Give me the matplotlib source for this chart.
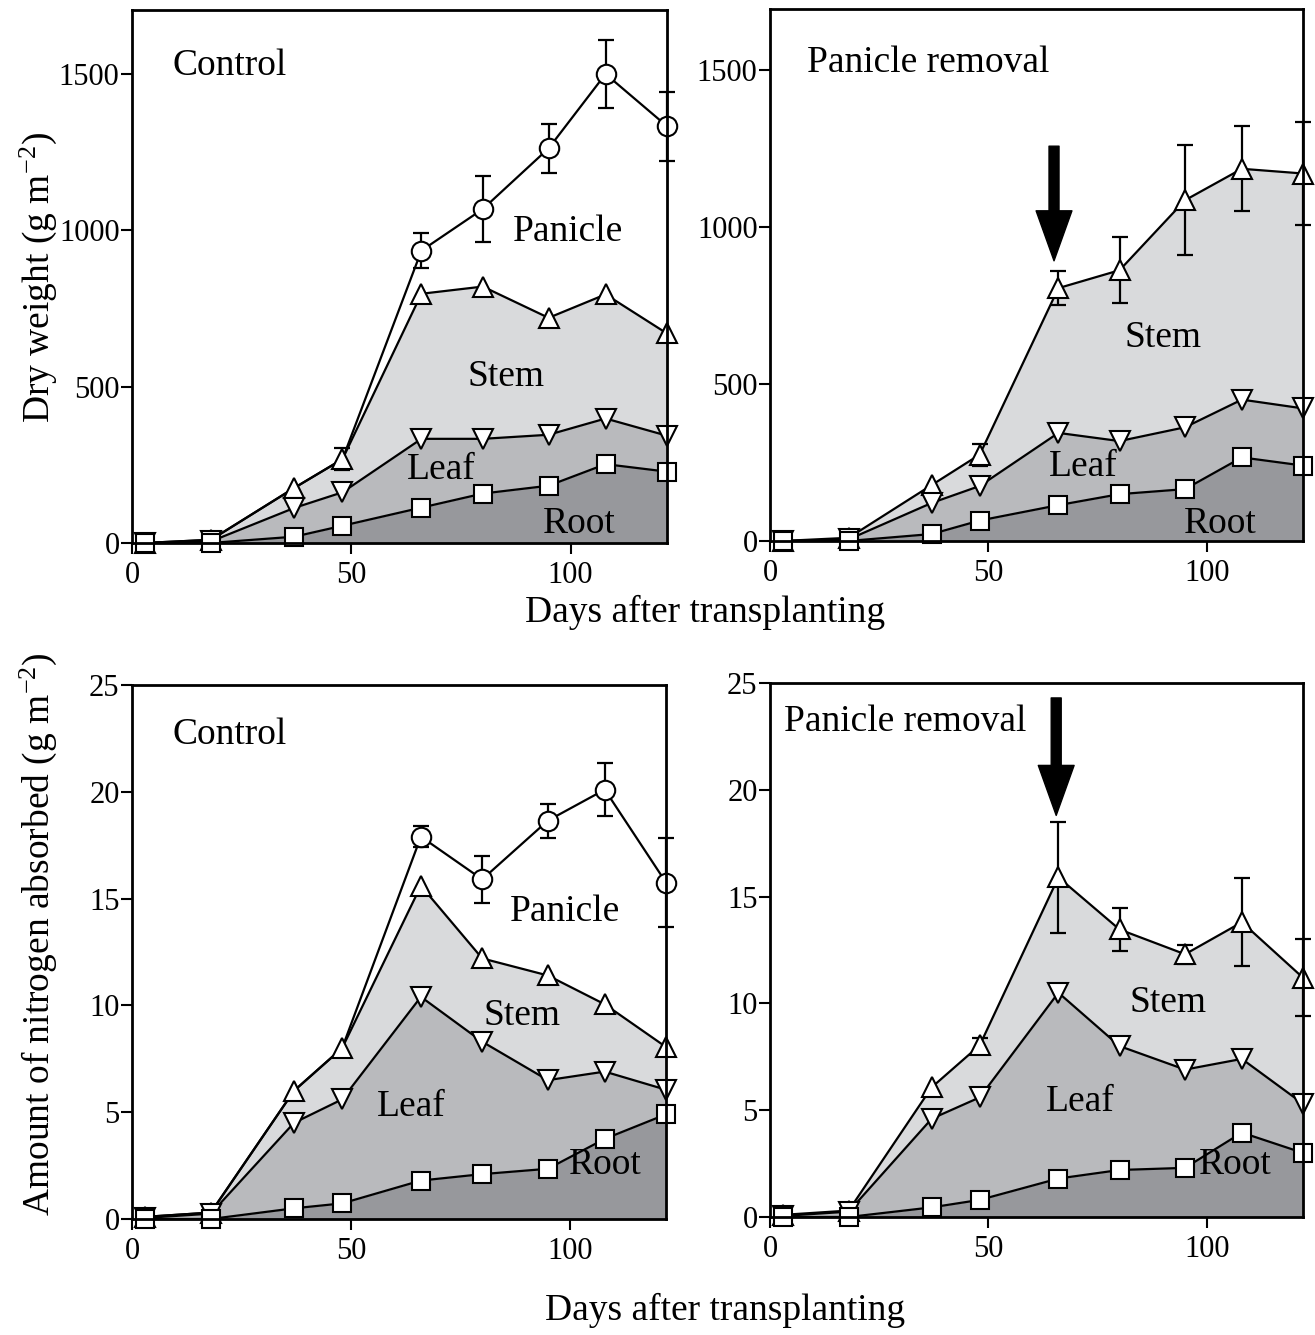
import numpy as np
import matplotlib
matplotlib.use('Agg')
import matplotlib.pyplot as plt

plt.rcParams['font.family'] = ['Liberation Serif', 'DejaVu Serif']
plt.rcParams['mathtext.fontset'] = 'custom'
plt.rcParams['mathtext.rm'] = 'Liberation Serif'
plt.rcParams['mathtext.it'] = 'Liberation Serif:italic'

days = [3, 18, 37, 48, 66, 80, 95, 108, 122]

# dry weight, control (stacked totals: root, +leaf, +stem, +panicle)
dw_ctrl_root = [0, 0, 20, 55, 113, 158, 183, 252, 228]
dw_ctrl_leaf = [0, 5, 112, 162, 333, 333, 346, 398, 343]
dw_ctrl_stem = [0, 10, 176, 268, 797, 820, 720, 795, 670]
dw_ctrl_panicle = [0, 10, 176, 268, 935, 1068, 1262, 1500, 1333]
dw_ctrl_err = [15, 15, 0, 35, 55, 105, 78, 110, 110]

# dry weight, panicle removal
dw_rem_root = [0, 0, 22, 65, 114, 149, 165, 266, 240]
dw_rem_leaf = [0, 5, 121, 175, 344, 318, 362, 450, 422]
dw_rem_stem = [0, 10, 178, 275, 805, 862, 1085, 1185, 1170]
dw_rem_err = [20, 15, 0, 35, 55, 105, 175, 135, 165]

# nitrogen, control
n_ctrl_root = [0, 0, 0.5, 0.73, 1.8, 2.1, 2.35, 3.75, 4.9]
n_ctrl_leaf = [0.05, 0.25, 4.5, 5.6, 10.4, 8.3, 6.5, 6.9, 6.05]
n_ctrl_stem = [0.1, 0.3, 6.0, 8.0, 15.6, 12.2, 11.4, 10.05, 8.05]
n_ctrl_panicle = [0.1, 0.3, 6.0, 8.0, 17.9, 15.9, 18.65, 20.1, 15.75]
n_ctrl_err = [0.2, 0.2, 0, 0, 0.5, 1.1, 0.8, 1.25, 2.1]

# nitrogen, panicle removal
n_rem_root = [0, 0, 0.45, 0.8, 1.8, 2.2, 2.3, 3.95, 3.0]
n_rem_leaf = [0.05, 0.25, 4.6, 5.6, 10.5, 8.0, 6.9, 7.4, 5.3]
n_rem_stem = [0.1, 0.3, 6.07, 8.04, 15.9, 13.46, 12.3, 13.8, 11.2]
n_rem_err = [0.2, 0.2, 0, 0.35, 2.6, 1.0, 0.45, 2.05, 1.8]

root_c = '#97989c'
leaf_c = '#b9babd'
stem_c = '#d9dadc'

fig = plt.figure(figsize=(13.15, 13.35), dpi=100)


def draw_panel(rect, root, leaf, stem, panicle, err, ylim, yticks):
    ax = fig.add_axes(rect)
    x = np.array(days)
    ax.fill_between(x, 0, root, color=root_c, lw=0, zorder=1)
    ax.fill_between(x, root, leaf, color=leaf_c, lw=0, zorder=1)
    ax.fill_between(x, leaf, stem, color=stem_c, lw=0, zorder=1)

    top = stem if panicle is None else panicle
    e = np.array(err)
    m = e > 0
    ax.errorbar(x[m], np.array(top)[m], yerr=e[m], fmt='none', ecolor='black',
                elinewidth=1.6, capsize=6, capthick=1.6, zorder=3, clip_on=False)

    kw = dict(color='black', lw=1.6, mfc='white', mec='black', mew=1.5,
              clip_on=False, zorder=4)
    if panicle is not None:
        ax.plot(x, panicle, marker='o', ms=14, markevery=slice(4, None), **kw)
    ax.plot(x, stem, marker='^', ms=14, **kw)
    ax.plot(x, leaf, marker='v', ms=14, **kw)
    ax.plot(x, root, marker='s', ms=13, **kw)

    ax.set_xlim(0, 122)
    ax.set_ylim(*ylim)
    ax.set_xticks([0, 50, 100])
    ax.set_yticks(yticks)
    for s in ax.spines.values():
        s.set_linewidth(2)
        s.set_zorder(5)
    ax.tick_params(axis='both', direction='out', length=8, width=1.5,
                   labelsize=22)
    ax.tick_params(axis='y', pad=1)
    ax.tick_params(axis='x', pad=5)
    return ax


ax1 = draw_panel([0.1004, 0.5933, 0.4068, 0.3993], dw_ctrl_root, dw_ctrl_leaf,
                 dw_ctrl_stem, dw_ctrl_panicle, dw_ctrl_err, (0, 1705),
                 [0, 500, 1000, 1500])
ax1.text(9.2, 1525, 'Control', fontsize=27, va='center', ha='left')
ax1.text(99.5, 995, 'Panicle', fontsize=27, va='center', ha='center')
ax1.text(85.4, 530, 'Stem', fontsize=27, va='center', ha='center')
ax1.text(70.5, 235, 'Leaf', fontsize=27, va='center', ha='center')
ax1.text(102, 62, 'Root', fontsize=27, va='center', ha='center')

ax2 = draw_panel([0.5856, 0.5948, 0.4053, 0.3985], dw_rem_root, dw_rem_leaf,
                 dw_rem_stem, None, dw_rem_err, (0, 1694),
                 [0, 500, 1000, 1500])
ax2.text(8.5, 1522, 'Panicle removal', fontsize=27, va='center', ha='left')
ax2.text(90, 648, 'Stem', fontsize=27, va='center', ha='center')
ax2.text(71.6, 235, 'Leaf', fontsize=27, va='center', ha='center')
ax2.text(103, 56, 'Root', fontsize=27, va='center', ha='center')
ax2.annotate('', xy=(65, 892), xytext=(65, 1257),
             arrowprops=dict(arrowstyle='simple,head_length=1.2,head_width=0.86,tail_width=0.24',
                             mutation_scale=30, color='black', shrinkA=0, shrinkB=0))

ax3 = draw_panel([0.1004, 0.0869, 0.4061, 0.4000], n_ctrl_root, n_ctrl_leaf,
                 n_ctrl_stem, n_ctrl_panicle, n_ctrl_err, (0, 25),
                 [0, 5, 10, 15, 20, 25])
ax3.text(9.2, 22.66, 'Control', fontsize=27, va='center', ha='left')
ax3.text(99, 14.4, 'Panicle', fontsize=27, va='center', ha='center')
ax3.text(89, 9.5, 'Stem', fontsize=27, va='center', ha='center')
ax3.text(63.8, 5.25, 'Leaf', fontsize=27, va='center', ha='center')
ax3.text(108, 2.55, 'Root', fontsize=27, va='center', ha='center')

ax4 = draw_panel([0.5856, 0.0884, 0.4053, 0.4000], n_rem_root, n_rem_leaf,
                 n_rem_stem, None, n_rem_err, (0, 25),
                 [0, 5, 10, 15, 20, 25])
ax4.text(3.2, 23.2, 'Panicle removal', fontsize=27, va='center', ha='left')
ax4.text(91, 10.05, 'Stem', fontsize=27, va='center', ha='center')
ax4.text(71, 5.38, 'Leaf', fontsize=27, va='center', ha='center')
ax4.text(106.5, 2.45, 'Root', fontsize=27, va='center', ha='center')
ax4.annotate('', xy=(65.5, 18.8), xytext=(65.5, 24.3),
             arrowprops=dict(arrowstyle='simple,head_length=1.2,head_width=0.86,tail_width=0.24',
                             mutation_scale=30, color='black', shrinkA=0, shrinkB=0))

fig.text(0.029, 0.792, 'Dry weight (g m$^{-2}$)', rotation=90, fontsize=27,
         ha='center', va='center')
fig.text(0.029, 0.300, 'Amount of nitrogen absorbed (g m$^{-2}$)', rotation=90,
         fontsize=27, ha='center', va='center')
fig.text(0.536, 0.541, 'Days after transplanting', fontsize=27,
         ha='center', va='center')
fig.text(0.551, 0.0187, 'Days after transplanting', fontsize=27,
         ha='center', va='center')

fig.savefig('out.png', dpi=100)
